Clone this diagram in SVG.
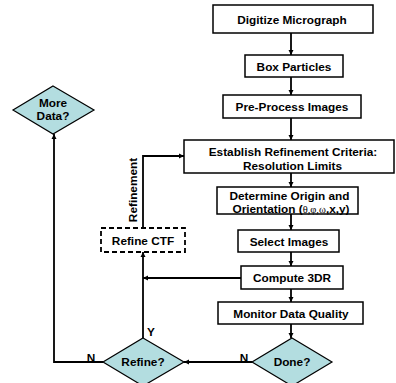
<svg xmlns="http://www.w3.org/2000/svg" width="396" height="383" viewBox="0 0 396 383">
  <style>
    .box { fill: #ffffff; stroke: #000000; stroke-width: 1.5; }
    .dash { fill: #ffffff; stroke: #000000; stroke-width: 1.8; stroke-dasharray: 5 3; }
    .dia { fill: #b3dde0; stroke: #000000; stroke-width: 1.2; }
    .lbl { font-family: "Liberation Sans", Arial, sans-serif; font-weight: bold; font-size: 11.8px; fill: #000000; text-anchor: middle; }
    .greek { font-family: "Liberation Serif", "Times New Roman", serif; font-weight: normal; font-size: 10.5px; }
    .conn { fill: none; stroke: #000000; stroke-width: 1.8; }
  </style>
  <defs>
    <marker id="arrow" viewBox="0 0 6 6" refX="6" refY="3" markerWidth="3" markerHeight="3" orient="auto">
      <path d="M0,0 L6,3 L0,6 z" fill="#000000"/>
    </marker>
  </defs>

  <rect width="396" height="383" fill="#ffffff"/>

  <g id="connectors">
    <path class="conn" d="M291,33 V55" marker-end="url(#arrow)"/>
    <path class="conn" d="M291,77 V95" marker-end="url(#arrow)"/>
    <path class="conn" d="M291,118 V140" marker-end="url(#arrow)"/>
    <path class="conn" d="M291,173 V187" marker-end="url(#arrow)"/>
    <path class="conn" d="M291,214 V230" marker-end="url(#arrow)"/>
    <path class="conn" d="M291,252 V266" marker-end="url(#arrow)"/>
    <path class="conn" d="M291,289 V302" marker-end="url(#arrow)"/>
    <path class="conn" d="M291,324 V338" marker-end="url(#arrow)"/>
    <path class="conn" d="M252,362 H184" marker-end="url(#arrow)"/>
    <path class="conn" d="M103,362 H54 V134" marker-end="url(#arrow)"/>
    <path class="conn" d="M143,338 V252" marker-end="url(#arrow)"/>
    <path class="conn" d="M241,278 H143" marker-end="url(#arrow)"/>
    <path class="conn" d="M143,228 V156 H184" marker-end="url(#arrow)"/>
    <text class="lbl" transform="translate(137,190) rotate(-90)">Refinement</text>
    <text class="lbl" x="91" y="362">N</text>
    <text class="lbl" x="151" y="336">Y</text>
    <text class="lbl" x="244" y="362">N</text>
  </g>

  <g id="digitize">
    <rect class="box" x="213" y="5" width="160" height="28"/>
    <text class="lbl" x="292" y="23.5">Digitize Micrograph</text>
  </g>
  <g id="box-particles">
    <rect class="box" x="245" y="55" width="98" height="22"/>
    <text class="lbl" x="294" y="70.5">Box Particles</text>
  </g>
  <g id="preprocess">
    <rect class="box" x="223" y="95" width="138" height="23"/>
    <text class="lbl" x="292" y="110.5">Pre-Process Images</text>
  </g>
  <g id="establish">
    <rect class="box" x="184" y="140" width="210" height="33"/>
    <text class="lbl" x="293" y="155.5">Establish Refinement Criteria:</text>
    <text class="lbl" x="292.5" y="169.5">Resolution Limits</text>
  </g>
  <g id="determine">
    <rect class="box" x="217" y="187" width="141" height="27"/>
    <text class="lbl" x="289.5" y="199.5">Determine Origin and</text>
    <text class="lbl" x="291" y="213">Orientation (<tspan class="greek">θ,φ,ω</tspan>,x,y)</text>
  </g>
  <g id="select">
    <rect class="box" x="238" y="230" width="101" height="22"/>
    <text class="lbl" x="289" y="245.5">Select Images</text>
  </g>
  <g id="compute">
    <rect class="box" x="241" y="266" width="102" height="23"/>
    <text class="lbl" x="292" y="281.5">Compute 3DR</text>
  </g>
  <g id="monitor">
    <rect class="box" x="218" y="302" width="145" height="22"/>
    <text class="lbl" x="291" y="317.5">Monitor Data Quality</text>
  </g>
  <g id="done">
    <polygon class="dia" points="292,338 332,362 292,386 252,362"/>
    <text class="lbl" x="292" y="366">Done?</text>
  </g>
  <g id="refine">
    <polygon class="dia" points="143,338 184,362 143,386 103,362"/>
    <text class="lbl" x="143" y="366">Refine?</text>
  </g>
  <g id="refine-ctf">
    <rect class="dash" x="101" y="228" width="84" height="24"/>
    <text class="lbl" x="143" y="244.5">Refine CTF</text>
  </g>
  <g id="more-data">
    <polygon class="dia" points="53,86 94,110 53,134 13,110"/>
    <text class="lbl" x="53" y="107">More</text>
    <text class="lbl" x="53" y="120">Data?</text>
  </g>
</svg>
